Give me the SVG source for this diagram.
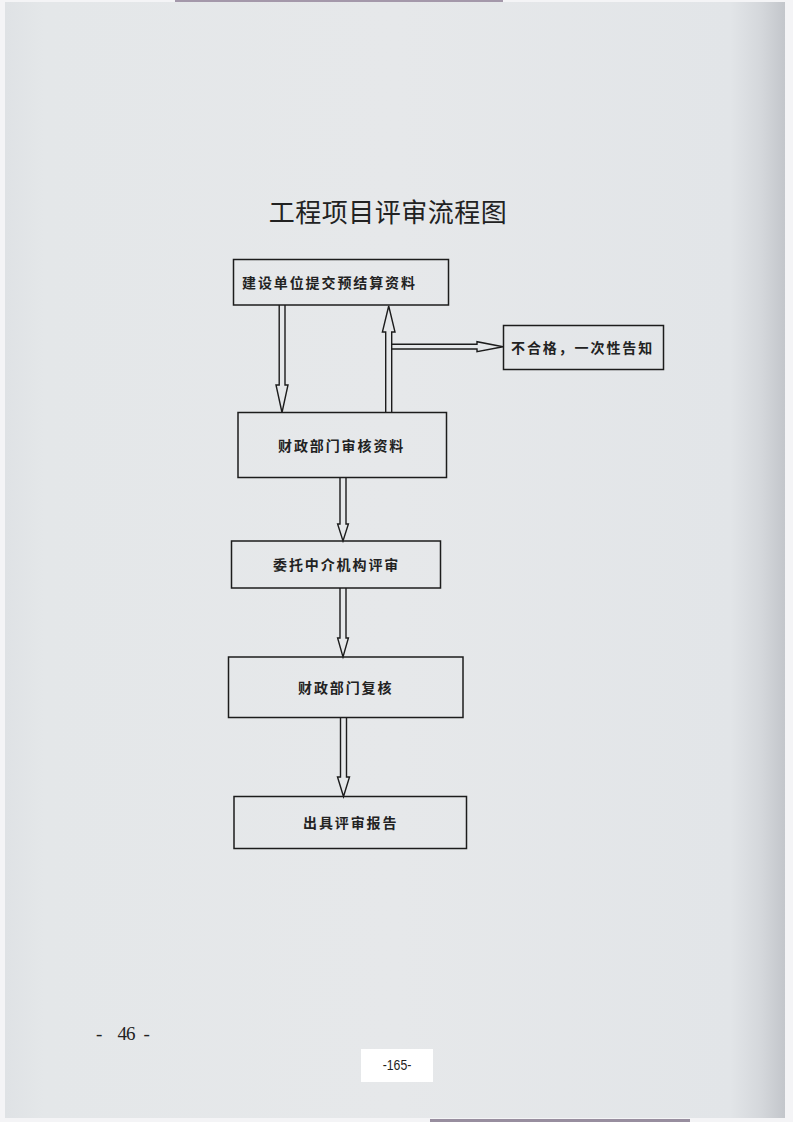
<svg xmlns="http://www.w3.org/2000/svg" width="793" height="1122" viewBox="0 0 793 1122">
  <defs>
    <linearGradient id="paper" x1="0" y1="0" x2="1" y2="0">
      <stop offset="0" stop-color="#dfe2e5"/>
      <stop offset="0.05" stop-color="#e4e7e9"/>
      <stop offset="0.5" stop-color="#e6e8ea"/>
      <stop offset="0.93" stop-color="#e2e5e8"/>
      <stop offset="0.97" stop-color="#d4d7db"/>
      <stop offset="1" stop-color="#c3c6cb"/>
    </linearGradient>
    <style>
      .box { fill: none; stroke: #1c1c1c; stroke-width: 1.5; }
      .arrow { fill: none; stroke: #1c1c1c; stroke-width: 1.4; stroke-linejoin: miter; }
      .label { font-family: "Noto Sans CJK SC", "Noto Sans", sans-serif; font-size: 14px; font-weight: 700; fill: #222; letter-spacing: 1.9px; }
      .title { font-family: "Noto Sans CJK SC", "Noto Sans", sans-serif; font-size: 26px; font-weight: 400; fill: #222; }
      .pnum { font-family: "Liberation Serif", serif; font-size: 19px; fill: #222; }
      .pnum2 { font-family: "Liberation Sans", sans-serif; font-size: 15px; fill: #222; }
    </style>
  </defs>

  <rect x="0" y="0" width="793" height="1122" fill="#f4f4f6"/>
  <rect x="5" y="2" width="780" height="1116" fill="url(#paper)"/>
  <rect x="175" y="0" width="328" height="2" fill="#6e5a78" opacity="0.6"/>
  <rect x="430" y="1119" width="260" height="3" fill="#5a4a66" opacity="0.6"/>

  <text class="title" x="388" y="222" text-anchor="middle" letter-spacing="0.5">工程项目评审流程图</text>

  <g id="connectors">
    <path class="arrow" d="M279.2,305 V385 H276 L282,412.5 L288,385 H285 V305"/>
    <path class="arrow" d="M385.7,412.5 V332 H382.4 L388.7,306 L395,332 H391.7 V412.5"/>
    <path class="arrow" d="M391.7,344.3 H477 V341.7 L503,346.7 L477,351.7 V349 H391.7"/>
    <path class="arrow" d="M340,478 V524 H337.6 L343,541 L348.4,524 H346 V478"/>
    <path class="arrow" d="M340,588 V638 H337.6 L343,657 L348.4,638 H346 V588"/>
    <path class="arrow" d="M340.5,717 V777 H337.5 L343.5,796.5 L349.5,777 H346.5 V717"/>
  </g>

  <g id="node1">
    <rect class="box" x="233.5" y="259.5" width="215" height="45.5"/>
    <text class="label" x="242" y="288">建设单位提交预结算资料</text>
  </g>
  <g id="node2">
    <rect class="box" x="503.5" y="325.5" width="160" height="44"/>
    <text class="label" x="511" y="353">不合格，一次性告知</text>
  </g>
  <g id="node3">
    <rect class="box" x="238" y="412.5" width="208.5" height="65"/>
    <text class="label" x="278" y="451">财政部门审核资料</text>
  </g>
  <g id="node4">
    <rect class="box" x="231.5" y="541" width="209" height="47"/>
    <text class="label" x="273" y="570">委托中介机构评审</text>
  </g>
  <g id="node5">
    <rect class="box" x="228.5" y="657" width="234.5" height="60.5"/>
    <text class="label" x="298" y="693">财政部门复核</text>
  </g>
  <g id="node6">
    <rect class="box" x="234" y="796.5" width="232.5" height="52"/>
    <text class="label" x="303" y="828">出具评审报告</text>
  </g>

  <text class="pnum" x="96 117.5 126 143.5" y="1040">-46-</text>
  <g id="pagebox">
    <rect x="361" y="1049" width="72" height="33" fill="#ffffff"/>
    <text class="pnum2" transform="translate(397,1070) scale(0.82,1)" x="0" y="0" text-anchor="middle">-165-</text>
  </g>
</svg>
